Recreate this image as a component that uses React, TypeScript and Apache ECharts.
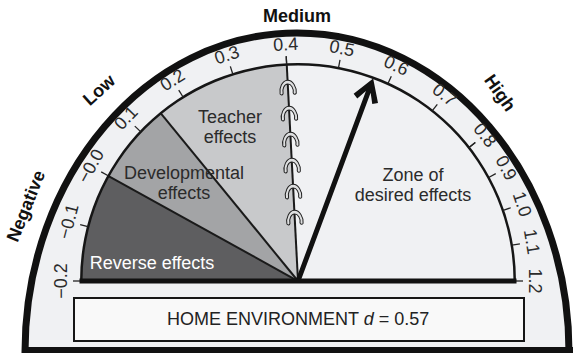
import React, { useEffect, useRef } from 'react';
import * as echarts from 'echarts';

// ---------- data ----------
const tickValues = [-0.2, -0.1, 0.0, 0.1, 0.2, 0.3, 0.4, 0.5, 0.6, 0.7, 0.8, 0.9, 1.0, 1.1, 1.2];
const tickLabels = ['−0.2', '−0.1', '−0.0', '0.1', '0.2', '0.3', '0.4', '0.5', '0.6', '0.7', '0.8', '0.9', '1.0', '1.1', '1.2'];
const zoneNames = ['Reverse effects', 'Developmental effects', 'Teacher effects', 'Zone of desired effects'];
const zoneBounds = [-0.2, 0.0, 0.15, 0.4, 1.2];
const bandNames = ['Negative', 'Low', 'Medium', 'High'];
const influenceName = 'HOME ENVIRONMENT';
const effectSize = 0.57;

// ---------- layout / style ----------
const W = 574;
const H = 356;
const CX = 298;
const CY = 281;
const R = 217;
const FONT = '"Liberation Sans", Arial, Helvetica, sans-serif';
const zoneColors = ['#5e5e60', '#a3a4a6', '#c8c9cb', '#f0f1f3'];
const zoneTextColors = ['#ffffff', '#2b2b2b', '#2b2b2b', '#2b2b2b'];
// piecewise angular scale of the barometer
const scalePieces = [
  { from: -0.2, to: 0.4, startAngle: 180, endAngle: 93, splits: 6 },
  { from: 0.4, to: 0.8, startAngle: 93, endAngle: 38, splits: 4 },
  { from: 0.8, to: 1.2, startAngle: 38, endAngle: 0, splits: 4 },
];
const zoneLabelPos = [
  { x: 152, y: 263 },
  { x: 184, y: 183 },
  { x: 230, y: 127 },
  { x: 413, y: 185 },
];
const bandLabelPos = [
  { x: 26, y: 206, rot: 68 },
  { x: 99, y: 90, rot: 42 },
  { x: 297, y: 16, rot: 0 },
  { x: 500, y: 93, rot: -55 },
];
const hookFractions = [0.9, 0.78, 0.66, 0.54, 0.42, 0.3];

const HOOK_D =
  'M -9 8 C -10 2 -6 -6 0 -6 C 6 -6 10 2 9 8 C 8 9.5 6 9.5 5.6 7.5 C 6.5 3 4 -2 0 -2 C -4 -2 -6.5 3 -5.6 7.5 C -6 9.5 -8 9.5 -9 8 Z';
const ARROW_D =
  'M12 0 L25 21 L20 24 L14.5 14 L14.5 215 L9.5 215 L9.5 14 L4 24 L-1 21 Z';

const eps = 1e-6;
function angleOf(v: number): number {
  for (const p of scalePieces) {
    if (v >= p.from - eps && v <= p.to + eps) {
      return p.startAngle + ((v - p.from) / (p.to - p.from)) * (p.endAngle - p.startAngle);
    }
  }
  return 0;
}

export default function App() {
  const ref = useRef<HTMLDivElement>(null);

  useEffect(() => {
    if (!ref.current) return;
    echarts.graphic.registerShape('hook', echarts.graphic.extendPath(HOOK_D, {}) as any);
    const chart = echarts.init(ref.current, null, { renderer: 'svg' });

    const common = {
      type: 'gauge',
      center: [CX, CY],
      anchor: { show: false },
      title: { show: false },
      detail: { show: false },
      progress: { show: false },
    };

    const zoneSeries = scalePieces.map((p, i) => {
      const stops: any[] = [];
      for (let z = 0; z < zoneNames.length; z++) {
        const lo = Math.max(zoneBounds[z], p.from);
        const hi = Math.min(zoneBounds[z + 1], p.to);
        if (hi > lo + eps) stops.push([(hi - p.from) / (p.to - p.from), zoneColors[z]]);
      }
      const bounds = zoneBounds
        .slice(1, -1)
        .filter((v) => v >= p.from - eps && v <= p.to + eps && !(i > 0 && Math.abs(v - p.from) < eps))
        .map((v) => ({ value: v, name: '' }));
      return {
        ...common,
        radius: R,
        min: p.from,
        max: p.to,
        startAngle: p.startAngle,
        endAngle: p.endAngle,
        splitNumber: p.splits,
        z: 2 + (scalePieces.length - i) * 0.1,
        axisLine: { show: true, lineStyle: { width: R, color: stops } },
        axisTick: { show: false },
        splitLine: { show: false },
        axisLabel: { show: false },
        pointer: {
          show: true,
          icon: 'rect',
          width: 2,
          length: R,
          offsetCenter: [0, 0],
          itemStyle: { color: '#1a1a1a' },
        },
        data: bounds,
      };
    });

    const arcSeries = {
      ...common,
      radius: R + 1,
      min: 0,
      max: 1,
      startAngle: 180,
      endAngle: 0,
      z: 3,
      axisLine: { show: true, lineStyle: { width: 2.5, color: [[1, '#161616']] } },
      axisTick: { show: false },
      splitLine: { show: false },
      axisLabel: { show: false },
      pointer: { show: false },
      data: [],
    };

    const tickSeries = scalePieces.map((p, i) => ({
      ...common,
      radius: R,
      min: p.from,
      max: p.to,
      startAngle: p.startAngle,
      endAngle: p.endAngle,
      splitNumber: p.splits,
      z: 4,
      axisLine: { show: false, lineStyle: { width: 0 } },
      axisTick: { show: false },
      splitLine: { show: true, length: 8, distance: -8, lineStyle: { color: '#222', width: 1.3 } },
      axisLabel: {
        show: true,
        distance: -20,
        rotate: 'tangential',
        color: '#2b2b2b',
        fontSize: 18,
        fontFamily: FONT,
        formatter: (v: number) => {
          if (i > 0 && Math.abs(v - p.from) < eps) return '';
          const k = tickValues.findIndex((t) => Math.abs(t - v) < eps);
          return k >= 0 ? tickLabels[k] : '';
        },
      },
      pointer: { show: false },
      data: [],
    }));

    const ap = scalePieces.find((p) => effectSize >= p.from && effectSize <= p.to)!;
    const arrowSeries = {
      ...common,
      radius: R,
      min: ap.from,
      max: ap.to,
      startAngle: ap.startAngle,
      endAngle: ap.endAngle,
      splitNumber: ap.splits,
      z: 5,
      axisLine: { show: false, lineStyle: { width: 0 } },
      axisTick: { show: false },
      splitLine: { show: false },
      axisLabel: { show: false },
      pointer: {
        show: true,
        icon: 'path://' + ARROW_D,
        width: 26,
        length: R - 1,
        offsetCenter: [0, 0],
        itemStyle: { color: '#111' },
      },
      data: [{ value: effectSize, name: influenceName }],
    };

    const a04 = (angleOf(zoneBounds[3]) * Math.PI) / 180;
    const hooks = hookFractions.map((f) => ({
      type: 'hook',
      x: CX + Math.cos(a04) * f * R,
      y: CY - Math.sin(a04) * f * R,
      rotation: a04 - Math.PI / 2,
      scaleX: 0.9,
      scaleY: 0.95,
      z: 20,
      style: { fill: '#dedfe0', stroke: '#1e1e1e', lineWidth: 1.1 },
    }));

    const zoneTexts = zoneNames.map((n, i) => {
      let text = n;
      if (i === 1) text = 'Developmental\neffects';
      if (i === 2) text = 'Teacher\neffects';
      if (i === 3) text = 'Zone of\ndesired effects';
      return {
        type: 'text',
        x: zoneLabelPos[i].x,
        y: zoneLabelPos[i].y,
        z: 20,
        style: {
          text,
          fill: zoneTextColors[i],
          font: `18px ${FONT}`,
          align: 'center',
          verticalAlign: 'middle',
          lineHeight: 20,
        },
      };
    });

    const bandTexts = bandNames.map((n, i) => ({
      type: 'text',
      x: bandLabelPos[i].x,
      y: bandLabelPos[i].y,
      rotation: (bandLabelPos[i].rot * Math.PI) / 180,
      z: 20,
      style: {
        text: n,
        fill: '#111',
        font: `bold 18px ${FONT}`,
        align: 'center',
        verticalAlign: 'middle',
      },
    }));

    chart.setOption({
      animation: false,
      backgroundColor: '#ffffff',
      series: [...zoneSeries, arcSeries, ...tickSeries, arrowSeries],
      graphic: [
        {
          type: 'ellipse',
          z: -10,
          shape: { cx: 297, cy: 352, rx: 272, ry: 319 },
          style: { fill: '#f0f1f3', stroke: '#111', lineWidth: 7 },
        },
        { type: 'rect', z: 19, shape: { x: 0, y: 353, width: W, height: 10 }, style: { fill: '#ffffff' } },
        { type: 'rect', z: 19, shape: { x: 22, y: 347, width: 551, height: 6 }, style: { fill: '#111' } },
        {
          type: 'rect',
          z: 19,
          shape: { x: CX - R - 1.5, y: CY - 2.5, width: 2 * R + 3, height: 5 },
          style: { fill: '#111' },
        },
        {
          type: 'rect',
          z: 19,
          shape: { x: 74, y: 298, width: 450, height: 43 },
          style: { fill: '#f9f9f9', stroke: '#161616', lineWidth: 2 },
        },
        {
          type: 'text',
          z: 20,
          x: 298,
          y: 319,
          style: {
            text: `{a|${influenceName} }{i|d}{a| = ${effectSize.toFixed(2)}}`,
            align: 'center',
            verticalAlign: 'middle',
            rich: {
              a: { font: `18px ${FONT}`, fill: '#222' },
              i: { font: `italic 18px ${FONT}`, fill: '#222' },
            },
          },
        },
        ...hooks,
        ...zoneTexts,
        ...bandTexts,
      ],
    } as any);

    return () => chart.dispose();
  }, []);

  return (
    <div
      ref={ref}
      style={{ position: 'fixed', left: 0, top: 0, width: W, height: H }}
    />
  );
}
